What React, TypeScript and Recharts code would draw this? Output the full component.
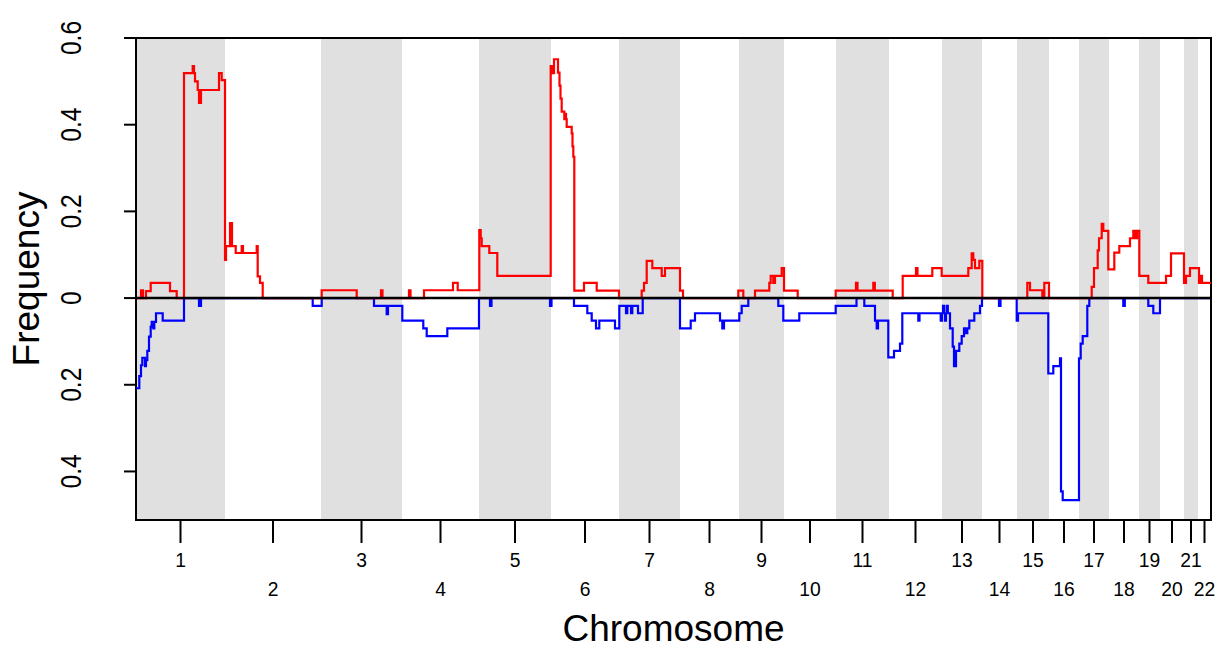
import React from 'react';
import { LineChart, Line, XAxis, YAxis, ReferenceArea, ReferenceLine } from 'recharts';

// Chromosome names and their lengths (genome index units)
const chromosomes = ['1','2','3','4','5','6','7','8','9','10','11','12','13','14','15','16','17','18','19','20','21','22'];
const chromLengths = [89, 96, 81, 77, 72, 68, 61, 59, 45, 52, 53, 53, 40, 35, 32, 30, 30, 30, 21, 24, 14, 13];

// Y axis ticks
const yTicks = [-0.4, -0.2, 0, 0.2, 0.4, 0.6];

// Gain frequency: [genome position, frequency] (step function)
const gains: [number, number][] = [
  [0,0],[5,0.018],[7,0],[10,0.016],[14.7,0.035],[34,0.016],[40.7,0],[48,0.519],[56.7,0.535],[58,0.519],[59,0.5],
  [61.7,0.48],[63,0.45],[65,0.48],[83,0.519],[85.7,0.503],[89,0.088],[90,0.12],[94,0.173],[96,0.12],[99.7,0.104],
  [105.7,0.12],[107,0.104],[120.7,0.12],[121.7,0.05],[124,0.035],[126.7,0],[185.7,0.018],[220.7,0],[245,0.018],
  [246.5,0],[273,0.018],[274.5,0],[288,0.018],[317,0.035],[321.7,0.018],[343.3,0.157],[344.7,0.138],[345.7,0.12],
  [353.3,0.104],[361.3,0.051],[414.7,0.535],[416.3,0.519],[418,0.551],[422,0.52],[423.5,0.49],[424.5,0.46],
  [425.7,0.43],[428.3,0.413],[429,0.425],[430,0.413],[430.7,0.395],[435.7,0.38],[436.5,0.35],[437.3,0.326],
  [438.3,0.017],[448,0.035],[460.7,0.017],[483,0],[505.7,0.017],[508,0.035],[510.7,0.086],[516.3,0.069],
  [525.7,0.051],[529,0.069],[544,0.017],[547,0],[602.3,0.017],[607.3,0],[619,0.017],[633.3,0.035],[634.7,0.051],
  [637.3,0.035],[639,0.051],[645.7,0.069],[648,0.017],[661.7,0],[699.7,0.017],[720,0.035],[721.5,0.017],
  [737.3,0.035],[738.8,0.017],[756.7,0],[766.7,0.051],[780,0.069],[781.5,0.051],[796.3,0.069],[805.7,0.051],
  [832.3,0.069],[835.7,0.103],[837.3,0.088],[839,0.069],[843.3,0.086],[846.3,0],[891.3,0.035],[894,0.018],
  [906.3,0],[908.3,0.035],[913,0],[955.7,0.026],[958,0.069],[961.7,0.11],[963,0.138],[965.7,0.171],[967.3,0.155],
  [972.3,0.066],[978.3,0.105],[983.3,0.12],[994,0.138],[997.3,0.155],[999,0.138],[1001,0.155],[1003.3,0.051],
  [1012.3,0.035],[1030,0.051],[1035,0.103],[1048,0.035],[1050,0.051],[1054,0.069],[1063,0.035],[1064.7,0.051],
  [1066,0.035],[1075,0.035],
];

// Loss frequency (plotted downwards): [genome position, -frequency]
const losses: [number, number][] = [
  [0,-0.208],[3.3,-0.18],[5,-0.155],[6.3,-0.138],[9,-0.157],[10,-0.143],[11.3,-0.122],[13,-0.089],[14.7,-0.066],
  [15.7,-0.055],[17.3,-0.07],[18.3,-0.055],[20,-0.035],[26.7,-0.052],[48,0],[63,-0.018],[65,0],[176.7,-0.018],
  [185.7,0],[238,-0.018],[250.7,-0.037],[252,-0.018],[266.3,-0.052],[287.3,-0.07],[290.7,-0.088],[311.3,-0.07],
  [343,0],[354,-0.018],[355.5,0],[414,-0.018],[415.5,0],[438,-0.018],[451.3,-0.035],[455.7,-0.052],[460,-0.07],
  [463.3,-0.052],[479,-0.07],[483.3,-0.018],[490,-0.035],[491.3,-0.018],[495,-0.035],[496.3,-0.018],[502,-0.035],
  [506.7,0],[544,-0.07],[554.7,-0.052],[559,-0.035],[584,-0.052],[586.3,-0.07],[588,-0.052],[603.3,-0.035],
  [605.7,-0.018],[612.3,0],[642.3,-0.018],[647.3,-0.052],[663.3,-0.035],[699.7,-0.018],[720.5,0],[728.3,-0.018],
  [739,-0.052],[740.7,-0.07],[742,-0.052],[752.3,-0.137],[758,-0.122],[764,-0.105],[766.3,-0.035],[782.3,-0.052],
  [783.5,-0.035],[804.7,-0.052],[806,-0.035],[807,-0.018],[808,-0.035],[809,-0.052],[810,-0.035],[810.7,-0.018],
  [811.8,-0.035],[814,-0.07],[816.7,-0.112],[818,-0.157],[820,-0.122],[823.3,-0.105],[825.7,-0.088],[828,-0.07],
  [830,-0.081],[831.3,-0.07],[833.3,-0.052],[838.3,-0.035],[844,-0.018],[846,0],[863,-0.018],[864.5,0],
  [880.7,-0.052],[882,-0.035],[912.3,-0.174],[917.3,-0.157],[924,-0.139],[925,-0.446],[926.7,-0.466],[943,-0.139],
  [944.7,-0.105],[946.7,-0.088],[951.3,-0.018],[953.3,0],[987.3,-0.018],[988.8,0],[1012.3,-0.018],[1017.3,-0.035],
  [1024,0],[1075,0],
];

const FONT = '"Liberation Sans", Arial, Helvetica, sans-serif';
const Y_MIN = -0.512;
const Y_MAX = 0.6;

const chromStarts: number[] = [];
chromLengths.reduce((acc, len) => { chromStarts.push(acc); return acc + len; }, 0);
const genomeLength = chromLengths.reduce((a, b) => a + b, 0);
const chromCenters = chromStarts.map((s, i) => s + chromLengths[i] / 2);

const gainData = gains.map(([x, v]) => ({ x, v }));
const lossData = losses.map(([x, v]) => ({ x, v }));

const XTick = (props: any) => {
  const { x, y, index } = props;
  const label = chromosomes[index];
  const row2 = index % 2 === 1;
  const ty = y + (row2 ? 53 : 24);
  return (
    <text x={0} y={0} transform={`translate(${x}, ${ty}) scale(0.92, 1)`} textAnchor="middle" fontSize={21} fontFamily={FONT} fill="#000">
      {label}
    </text>
  );
};

const YTick = (props: any) => {
  const { x, y, payload } = props;
  const v = Math.abs(payload.value);
  const label = v === 0 ? '0' : v.toFixed(1);
  const tx = x - 43;
  return (
    <text x={0} y={0} transform={`translate(${tx}, ${y}) rotate(-90) scale(0.82, 1)`} textAnchor="middle" fontSize={30} fontFamily={FONT} fill="#000">
      {label}
    </text>
  );
};

const XTitle = (props: any) => {
  const vb = props.viewBox || { x: 136, y: 520, width: 1075, height: 126 };
  return (
    <text x={vb.x + vb.width / 2} y={vb.y + 121} textAnchor="middle" fontSize={37} fontFamily={FONT} fill="#000">
      Chromosome
    </text>
  );
};

const YTitle = (props: any) => {
  const vb = props.viewBox || { x: 0, y: 38, width: 136, height: 482 };
  const cx = vb.x + 39;
  const cy = vb.y + vb.height / 2;
  return (
    <text x={cx} y={cy} transform={`rotate(-90, ${cx}, ${cy})`} textAnchor="middle" fontSize={37} fontFamily={FONT} fill="#000">
      Frequency
    </text>
  );
};

export default function App() {
  return (
    <div style={{ position: 'fixed', left: 0, top: 0, width: 1225, height: 646, background: '#fff' }}>
      <LineChart width={1225} height={646} margin={{ top: 38, right: 14, bottom: 0, left: 0 }}>
        <XAxis
          type="number"
          dataKey="x"
          domain={[0, genomeLength]}
          allowDataOverflow
          ticks={chromCenters}
          interval={0}
          tick={<XTick />}
          tickSize={23}
          tickMargin={0}
          tickLine={{ stroke: '#000', strokeWidth: 2 }}
          axisLine={false}
          height={126}
          label={<XTitle />}
        />
        <YAxis
          type="number"
          domain={[Y_MIN, Y_MAX]}
          allowDataOverflow
          ticks={yTicks}
          interval={0}
          tick={<YTick />}
          tickSize={12}
          tickMargin={0}
          tickLine={{ stroke: '#000', strokeWidth: 2 }}
          axisLine={false}
          width={136}
          label={<YTitle />}
        />
        {chromStarts.map((s, i) =>
          i % 2 === 0 ? (
            <ReferenceArea
              key={'band' + i}
              x1={s}
              x2={s + chromLengths[i]}
              y1={Y_MIN}
              y2={Y_MAX}
              fill="#e0e0e0"
              fillOpacity={1}
              stroke="none"
              ifOverflow="hidden"
            />
          ) : null
        )}
        <Line data={lossData} dataKey="v" type="stepAfter" stroke="#0000ff" strokeWidth={2.2} dot={false} isAnimationActive={false} />
        <Line data={gainData} dataKey="v" type="stepAfter" stroke="#ff0000" strokeWidth={2.2} dot={false} isAnimationActive={false} />
        <ReferenceLine y={0} stroke="#000" strokeWidth={2.5} />
        <ReferenceArea x1={0} x2={genomeLength} y1={Y_MIN} y2={Y_MAX} fill="none" stroke="#000" strokeWidth={2} />
      </LineChart>
    </div>
  );
}
